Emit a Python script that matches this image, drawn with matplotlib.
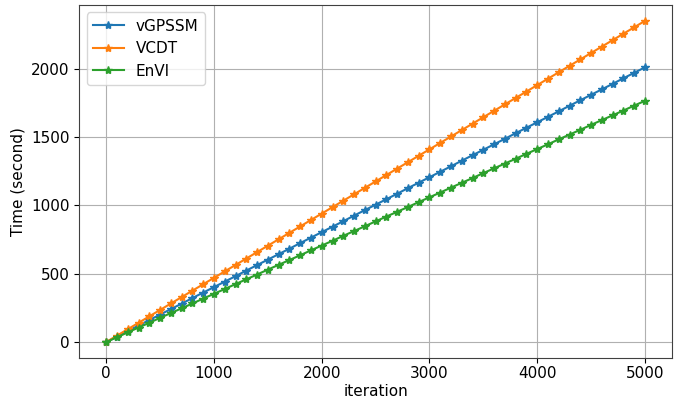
import numpy as np
import matplotlib.pyplot as plt

iteration = list(range(0, 5001, 100))

vgpssm = [0, 40, 80, 121, 161, 201, 241, 281, 322, 362, 402, 442, 482, 523, 563, 603, 643, 683, 724, 764,
          804, 844, 884, 925, 965, 1005, 1045, 1085, 1126, 1166, 1206, 1246, 1286, 1327, 1367, 1407, 1447, 1487,
          1528, 1568, 1608, 1648, 1688, 1729, 1769, 1809, 1849, 1889, 1930, 1970, 2010]
vcdt = [0, 47, 94, 141, 188, 235, 282, 329, 376, 423, 470, 517, 564, 611, 658, 705, 752, 799, 846, 893,
        940, 987, 1034, 1081, 1128, 1175, 1222, 1269, 1316, 1363, 1410, 1457, 1504, 1551, 1598, 1645, 1692, 1739,
        1786, 1833, 1880, 1927, 1974, 2021, 2068, 2115, 2162, 2209, 2256, 2303, 2350]
envi = [0, 35, 71, 106, 141, 177, 212, 247, 282, 318, 353, 388, 424, 459, 494, 530, 565, 600, 635, 671,
        706, 741, 777, 812, 847, 883, 918, 953, 988, 1024, 1059, 1094, 1130, 1165, 1200, 1236, 1271, 1306,
        1341, 1377, 1412, 1447, 1483, 1518, 1553, 1589, 1624, 1659, 1694, 1730, 1765]

plt.rcParams['font.size'] = 11

fig, ax = plt.subplots(figsize=(6.78, 4.01), dpi=100)
ms = 6
ax.plot(iteration, vgpssm, marker='*', markersize=ms, color='tab:blue', label='vGPSSM')
ax.plot(iteration, vcdt, marker='*', markersize=ms, color='tab:orange', label='VCDT')
ax.plot(iteration, envi, marker='*', markersize=ms, color='tab:green', label='EnVI')

ax.set_xlabel('iteration', labelpad=2)
ax.set_ylabel('Time (second)')
ax.tick_params(axis='x', pad=2.5)
ax.grid(True)
for s in ax.spines.values():
    s.set_color('#404040')
ax.legend(loc='upper left')

fig.subplots_adjust(left=0.117, right=0.991, top=0.988, bottom=0.107)
fig.savefig('out.png', dpi=100)
